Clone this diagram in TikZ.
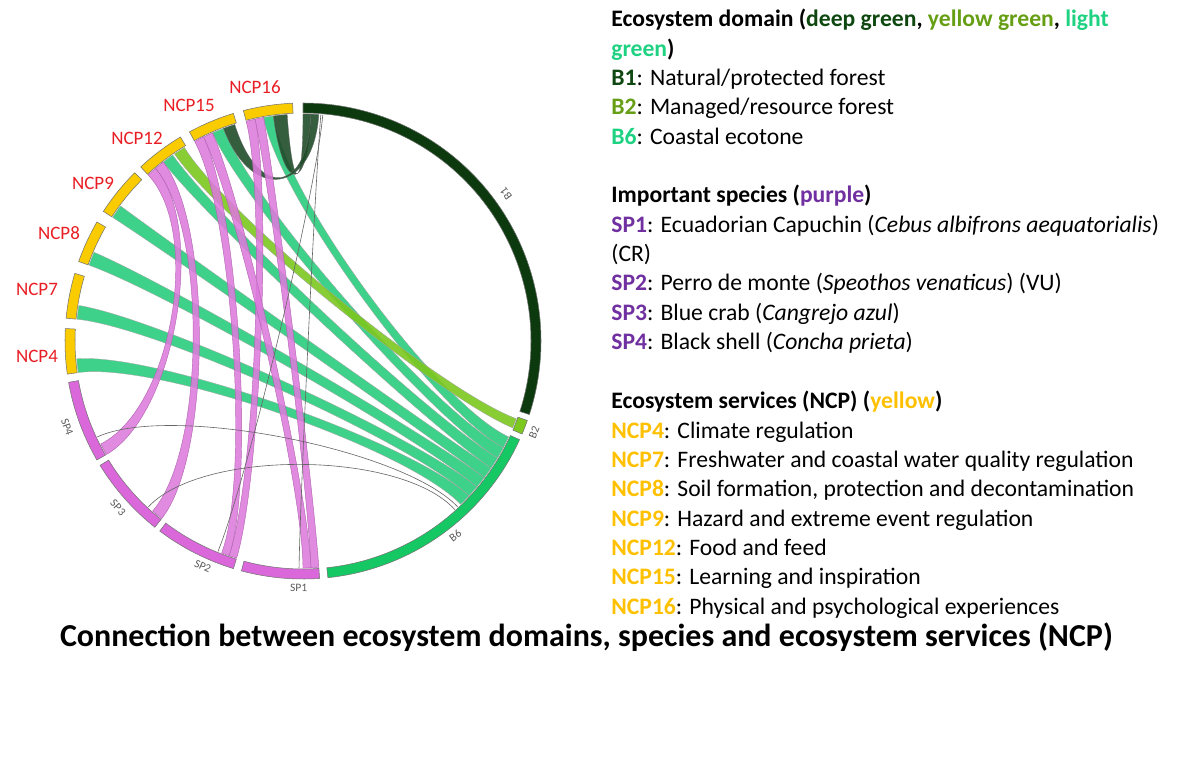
\documentclass[tikz,border=0pt]{standalone}
\usepackage{fontspec}
\setmainfont{Carlito}
\usetikzlibrary{positioning}

\definecolor{ncpyellow}{RGB}{250,204,0}
\definecolor{spviolet}{RGB}{218,104,218}
\definecolor{bdeep}{RGB}{12,58,14}
\definecolor{byellowgreen}{RGB}{124,200,30}
\definecolor{blight}{RGB}{22,200,100}
\definecolor{chordgreen}{RGB}{40,204,124}
\definecolor{chorddeep}{RGB}{30,76,40}
\definecolor{chordpink}{RGB}{220,122,220}
\definecolor{labred}{RGB}{232,30,36}
\definecolor{legdeep}{RGB}{14,72,16}
\definecolor{legyg}{RGB}{102,158,20}
\definecolor{leglight}{RGB}{30,210,130}
\definecolor{legpurple}{RGB}{112,48,160}
\definecolor{leggold}{RGB}{255,192,0}

% radii of the ring and of the link ends
\newcommand{\rin}{4.56}
\newcommand{\rout}{4.76}
\newcommand{\rch}{4.54}
\newcommand{\kk}{0.65}

% ring piece: style, start angle, end angle
\newcommand{\segarc}[3]{\filldraw[#1] (#2:\rin) arc[start angle=#2, end angle=#3, radius=\rin] -- (#3:\rout) arc[start angle=#3, end angle=#2, radius=\rout] -- cycle;}
% link band: style, a1, a2, b1, b2
\newcommand{\ribbon}[5]{\filldraw[#1] (#2:\rch) arc[start angle=#2, end angle=#3, radius=\rch] .. controls ({#3}:{\kk*\rch}) and ({#4}:{\kk*\rch}) .. (#4:\rch) arc[start angle=#4, end angle=#5, radius=\rch] .. controls ({#5}:{\kk*\rch}) and ({#2}:{\kk*\rch}) .. cycle;}
% thin link: from angle, to angle
\newcommand{\thinlink}[2]{\draw[thinline] (#1:\rch) .. controls ({#1}:{\kk*\rch}) and ({#2}:{\kk*\rch}) .. (#2:\rch);}

\begin{document}
\begin{tikzpicture}[
	seg/.style={draw=black!55, line width=0.3pt},
	greenlink/.style={fill=chordgreen, draw=black!35, line width=0.2pt, fill opacity=0.9},
	deeplink/.style={fill=chorddeep, draw=black!60, line width=0.2pt, fill opacity=0.9},
	yglink/.style={fill=byellowgreen, draw=black!35, line width=0.2pt, fill opacity=0.9},
	pinklink/.style={fill=chordpink, draw=violet!60, line width=0.25pt, fill opacity=0.88},
	thinline/.style={draw=black!60, line width=0.35pt},
	seglab/.style={font=\fontsize{6.5}{7}\selectfont, text=black!65, inner sep=0pt},
	ncplab/.style={font=\fontsize{10.8}{12}\selectfont, text=labred, inner sep=0pt},
	legline/.style={anchor=base west, inner sep=0pt, font=\fontsize{13.45}{16.6}\selectfont},
	]
	\useasboundingbox (0,0) rectangle (23.54,-15.42);
	
	\begin{scope}[shift={(6.06,-6.82)}]
		% links from B6 to the services
		\ribbon{greenlink}{184.5}{188}{-46}{-43}
		\ribbon{greenlink}{171}{174.5}{-43}{-40}
		\ribbon{greenlink}{157}{160.5}{-40}{-37}
		\ribbon{greenlink}{143.5}{147}{-37}{-34}
		\ribbon{greenlink}{125}{128}{-34}{-31}
		\ribbon{greenlink}{110.5}{113.5}{-31}{-28}
		\ribbon{greenlink}{97.5}{100}{-28}{-25}
		% B2 and B1
		\ribbon{yglink}{121.5}{124.5}{-22.5}{-20}
		\ribbon{deeplink}{88}{90}{94}{97.5}
		\ribbon{deeplink}{86}{88}{107.5}{110.5}
		% species
		\ribbon{pinklink}{130.5}{133}{-153}{-150}
		\ribbon{pinklink}{128}{130.5}{-131.5}{-128.5}
		\ribbon{pinklink}{100}{102.2}{-88}{-86}
		\ribbon{pinklink}{102.2}{104.5}{-109}{-107}
		\ribbon{pinklink}{113.5}{116}{-90}{-88}
		\ribbon{pinklink}{116}{118.5}{-111}{-109}
		% weak links
		\thinlink{85.5}{-91}
		\thinlink{85}{-112}
		\thinlink{-47}{-155}
		\thinlink{-48}{-133}
		
		% ring
		\segarc{seg, fill=bdeep}{-18}{90}
		\segarc{seg, fill=byellowgreen}{-23}{-19.5}
		\segarc{seg, fill=blight}{-84}{-24.5}
		\segarc{seg, fill=spviolet}{-105}{-86}
		\segarc{seg, fill=spviolet}{-127}{-107}
		\segarc{seg, fill=spviolet}{-148.5}{-128.5}
		\segarc{seg, fill=spviolet}{-170}{-150}
		\segarc{seg, fill=ncpyellow}{177}{188}
		\segarc{seg, fill=ncpyellow}{163.5}{174.5}
		\segarc{seg, fill=ncpyellow}{150}{160.5}
		\segarc{seg, fill=ncpyellow}{135}{147}
		\segarc{seg, fill=ncpyellow}{121}{133}
		\segarc{seg, fill=ncpyellow}{107}{118.5}
		\segarc{seg, fill=ncpyellow}{92.5}{104.5}
		
		% ring labels
		\node[seglab, rotate=126] (labB1) at (36:5.02) {B1};
		\node[seglab, rotate=68.5] (labB2) at (-21.5:4.97) {B2};
		\node[seglab, rotate=38] (labB6) at (-52:4.95) {B6};
		\node[seglab, rotate=-1] (labSP1) at (-91:4.94) {SP1};
		\node[seglab, rotate=-24] (labSP2) at (-114:4.93) {SP2};
		\node[seglab, rotate=-48] (labSP3) at (-138:4.98) {SP3};
		\node[seglab, rotate=-70] (labSP4) at (-160:5.02) {SP4};
	\end{scope}
	
	% service names round the ring
	\node[ncplab] (n16) at (5.10,-1.74) {NCP16};
	\node[ncplab] (n15) at (3.78,-2.10) {NCP15};
	\node[ncplab] (n12) at (2.74,-2.76) {NCP12};
	\node[ncplab] (n9) at (1.86,-3.66) {NCP9};
	\node[ncplab] (n8) at (1.18,-4.66) {NCP8};
	\node[ncplab] (n7) at (0.74,-5.78) {NCP7};
	\node[ncplab] (n4) at (0.74,-7.12) {NCP4};
	
	% legend
	\node[legline] (d0) at (12.22,-0.54) {\textbf{Ecosystem domain (\textcolor{legdeep}{deep green}, \textcolor{legyg}{yellow green}, \textcolor{leglight}{light}}};
	\node[legline] (d1) at (12.22,-1.126) {\textbf{\textcolor{leglight}{green})}};
	\node[legline] (d2) at (12.22,-1.712) {\textbf{\textcolor{legdeep}{B1}}: Natural/protected forest};
	\node[legline] (d3) at (12.22,-2.298) {\textbf{\textcolor{legyg}{B2}}: Managed/resource forest};
	\node[legline] (d4) at (12.22,-2.884) {\textbf{\textcolor{leglight}{B6}}: Coastal ecotone};
	
	\node[legline] (s0) at (12.22,-4.06) {\textbf{Important species (\textcolor{legpurple}{purple})}};
	\node[legline] (s1) at (12.22,-4.646) {\textbf{\textcolor{legpurple}{SP1}}: Ecuadorian Capuchin (\textit{Cebus albifrons aequatorialis})};
	\node[legline] (s1b) at (12.22,-5.232) {(CR)};
	\node[legline] (s2) at (12.22,-5.818) {\textbf{\textcolor{legpurple}{SP2}}: Perro de monte (\textit{Speothos venaticus}) (VU)};
	\node[legline] (s3) at (12.22,-6.404) {\textbf{\textcolor{legpurple}{SP3}}: Blue crab (\textit{Cangrejo azul})};
	\node[legline] (s4) at (12.22,-6.99) {\textbf{\textcolor{legpurple}{SP4}}: Black shell (\textit{Concha prieta})};
	
	\node[legline] (e0) at (12.22,-8.18) {\textbf{Ecosystem services (NCP) (\textcolor{leggold}{yellow})}};
	\node[legline] (e1) at (12.22,-8.766) {\textbf{\textcolor{leggold}{NCP4}}: Climate regulation};
	\node[legline] (e2) at (12.22,-9.352) {\textbf{\textcolor{leggold}{NCP7}}: Freshwater and coastal water quality regulation};
	\node[legline] (e3) at (12.22,-9.938) {\textbf{\textcolor{leggold}{NCP8}}: Soil formation, protection and decontamination};
	\node[legline] (e4) at (12.22,-10.524) {\textbf{\textcolor{leggold}{NCP9}}: Hazard and extreme event regulation};
	\node[legline] (e5) at (12.22,-11.11) {\textbf{\textcolor{leggold}{NCP12}}: Food and feed};
	\node[legline] (e6) at (12.22,-11.696) {\textbf{\textcolor{leggold}{NCP15}}: Learning and inspiration};
	\node[legline] (e7) at (12.22,-12.282) {\textbf{\textcolor{leggold}{NCP16}}: Physical and psychological experiences};
	
	% caption
	\node[anchor=base, inner sep=0pt, font=\fontsize{18.2}{21}\selectfont\bfseries] (title) at (11.73,-12.92) {Connection between ecosystem domains, species and ecosystem services (NCP)};
\end{tikzpicture}
\end{document}
